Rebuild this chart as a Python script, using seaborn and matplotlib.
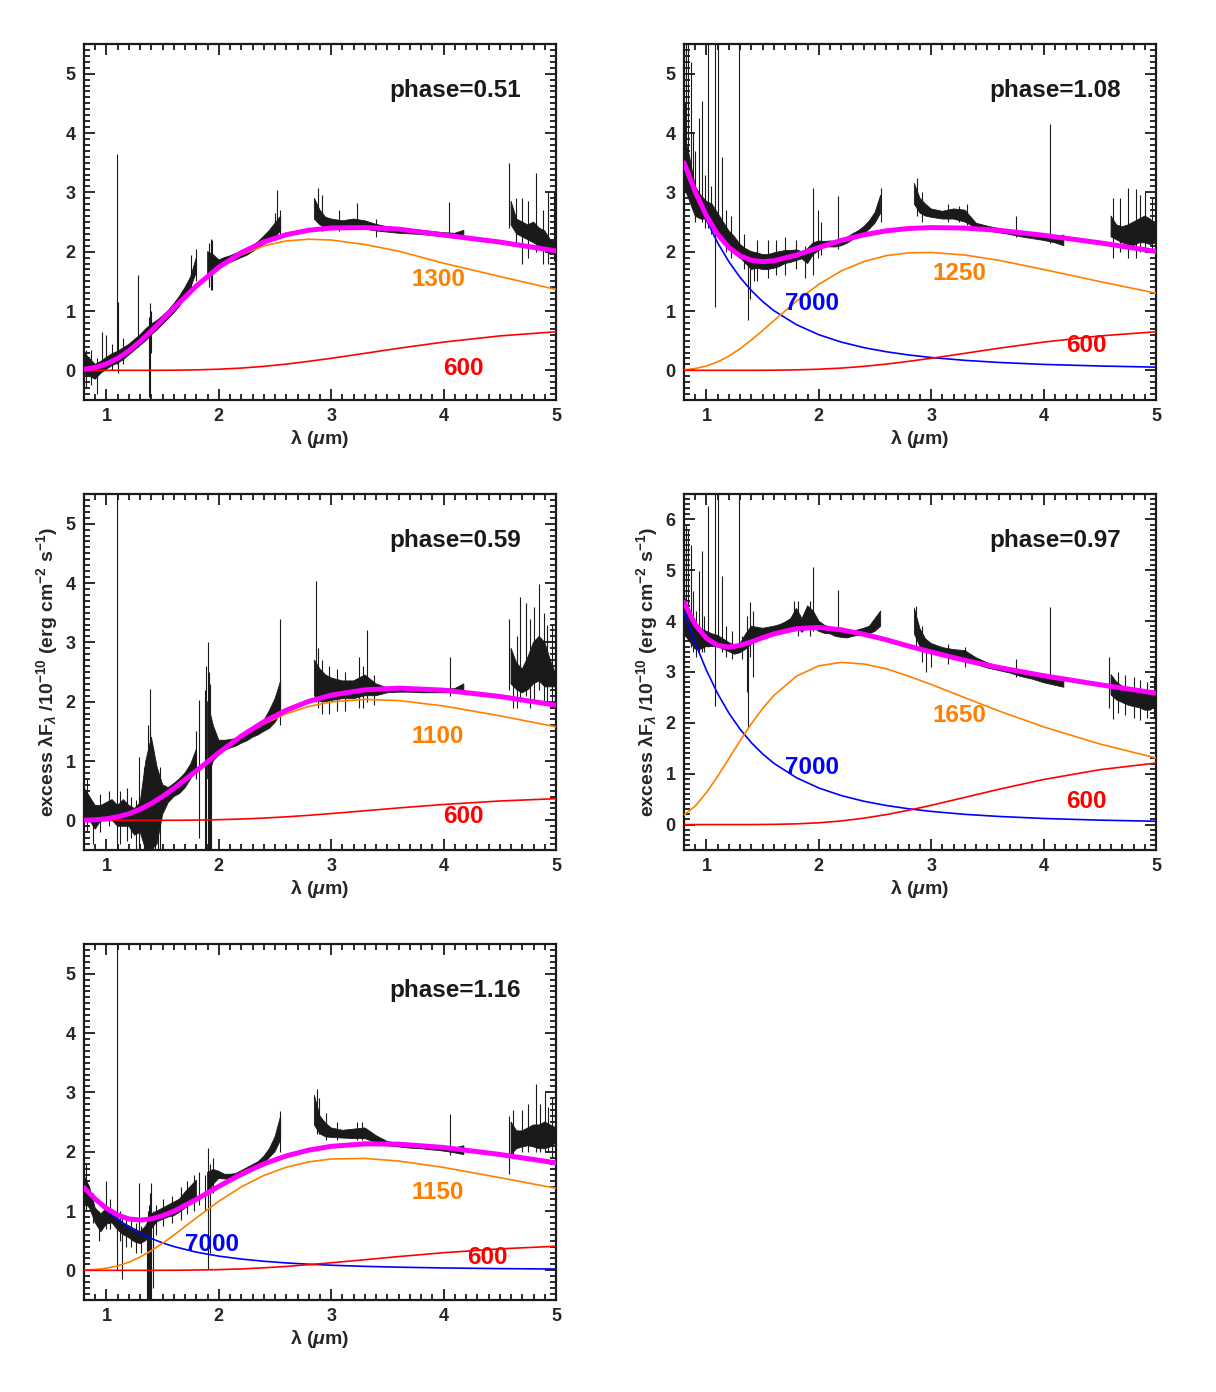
import numpy as np
import matplotlib
matplotlib.use("Agg")
import matplotlib.pyplot as plt
import seaborn as sns
from matplotlib.ticker import MultipleLocator

NA = np.nan

# Wavelength grid (micron) on which the noisy spectra were read (NA = no data)
spec_wl = [0.80, 0.85, 0.90, 0.95, 1.00, 1.05, 1.10, 1.15, 1.20, 1.25, 1.30, 1.35,
           1.40, 1.45, 1.50, 1.55, 1.60, 1.65, 1.70, 1.75, 1.80, 1.85, 1.90, 1.95,
           2.00, 2.05, 2.10, 2.15, 2.20, 2.25, 2.30, 2.35, 2.40, 2.45, 2.50, 2.55,
           2.70,
           2.85, 2.90, 2.95, 3.00, 3.10, 3.20, 3.30, 3.40, 3.50, 3.60, 3.70, 3.80, 3.90, 4.00, 4.10, 4.18,
           4.40,
           4.60, 4.65, 4.70, 4.75, 4.80, 4.85, 4.90, 4.95, 5.00]

# Wavelength grid of the model curves
fit_wl = [0.8, 0.9, 1.0, 1.1, 1.2, 1.3, 1.4, 1.5, 1.6, 1.8, 2.0, 2.2, 2.4, 2.6, 2.8, 3.0, 3.3, 3.6, 4.0, 4.5, 5.0]

# ---- phase 0.51 ----
p051_lo = [-0.05, -0.10, -0.15, -0.05, 0.02, 0.08, 0.12, 0.18, 0.26, 0.34, 0.42, 0.50,
           0.60, 0.68, 0.78, 0.87, 0.97, 1.08, 1.22, 1.40, 1.65, NA, 1.55, 1.70,
           1.74, 1.78, 1.82, 1.86, 1.90, 1.94, 2.00, 2.06, 2.12, 2.18, 2.25, 2.35,
           NA,
           2.55, 2.45, 2.42, 2.40, 2.40, 2.38, 2.38, 2.35, 2.33, 2.31, 2.30, 2.29, 2.27, 2.25, 2.23, 2.24,
           NA,
           2.45, 2.30, 2.25, 2.20, 2.15, 2.10, 2.05, 1.95, 1.95]
p051_hi = [0.30, 0.20, 0.10, 0.15, 0.22, 0.28, 0.32, 0.38, 0.44, 0.52, 0.60, 0.70,
           0.78, 0.84, 0.92, 1.01, 1.12, 1.25, 1.40, 1.58, 1.90, NA, 2.00, 1.95,
           1.86, 1.90, 1.93, 1.97, 2.00, 2.04, 2.10, 2.17, 2.26, 2.36, 2.48, 2.60,
           NA,
           2.90, 2.70, 2.58, 2.55, 2.52, 2.55, 2.52, 2.46, 2.42, 2.40, 2.38, 2.36, 2.34, 2.32, 2.31, 2.36,
           NA,
           2.85, 2.55, 2.50, 2.45, 2.50, 2.40, 2.35, 2.20, 2.15]
p051_lines = [(0.82, -0.30, 0.35), (0.86, -0.25, 0.35), (0.92, -0.40, 0.20), (0.96, 0.00, 0.65),
              (1.00, 0.10, 0.60), (1.05, 0.00, 0.45), (1.09, 0.10, 3.64), (1.10, -0.05, 1.15),
              (1.15, 0.10, 0.55), (1.28, 0.40, 1.60), (1.38, -0.45, 0.90), (1.39, -0.50, 1.13),
              (1.40, 0.30, 1.00), (1.75, 1.30, 1.95), (1.80, 1.50, 2.05), (1.91, 1.40, 2.15),
              (1.93, 1.35, 2.22), (1.94, 1.35, 2.20), (2.50, 2.20, 2.65), (2.52, 2.30, 3.04),
              (2.54, 2.30, 2.70), (2.88, 2.50, 3.08), (2.92, 2.35, 2.95), (3.07, 2.35, 2.70),
              (3.23, 2.40, 2.82), (3.40, 2.25, 2.55), (4.05, 2.30, 2.84), (4.58, 2.40, 3.49),
              (4.64, 2.10, 2.90), (4.70, 1.80, 2.90), (4.75, 1.90, 2.85), (4.82, 2.00, 3.33),
              (4.88, 1.80, 2.70), (4.93, 1.80, 3.02), (4.98, 1.85, 3.00)]
p051_temps = [1300, 600]
p051_orange = [0.017, 0.048, 0.108, 0.202, 0.330, 0.488, 0.666, 0.856, 1.050, 1.414, 1.720, 1.947, 2.098, 2.181, 2.210, 2.196, 2.120, 2.008, 1.805, 1.582, 1.363]
p051_red = [0, 0, 0, 0, 0, 0, 0, 0.001, 0.002, 0.008, 0.019, 0.038, 0.067, 0.105, 0.152, 0.203, 0.287, 0.372, 0.476, 0.580, 0.650]

# ---- phase 1.08 ----
p108_lo = [3.10, 2.85, 2.60, 2.55, 2.55, 2.50, 2.35, 2.20, 2.05, 2.00, 1.90, 1.80,
           1.70, 1.72, 1.70, 1.70, 1.72, 1.75, 1.80, 1.82, 1.85, 1.88, 1.80, 1.95,
           2.02, 2.08, 2.08, 2.08, 2.10, 2.14, 2.20, 2.25, 2.30, 2.38, 2.48, 2.65,
           NA,
           2.80, 2.65, 2.60, 2.58, 2.55, 2.55, 2.50, 2.40, 2.35, 2.32, 2.29, 2.25, 2.22, 2.19, 2.15, 2.10,
           NA,
           2.25, 2.20, 2.15, 2.12, 2.10, 2.15, 2.15, 2.12, 2.15]
p108_hi = [4.00, 3.60, 3.10, 2.95, 2.85, 2.80, 2.65, 2.50, 2.35, 2.25, 2.12, 2.05,
           2.00, 1.98, 1.95, 1.95, 1.98, 2.00, 2.02, 2.02, 2.03, 2.00, 2.05, 2.15,
           2.18, 2.17, 2.18, 2.18, 2.20, 2.24, 2.30, 2.35, 2.42, 2.52, 2.66, 2.95,
           NA,
           3.15, 2.90, 2.80, 2.72, 2.68, 2.72, 2.70, 2.48, 2.43, 2.39, 2.36, 2.32, 2.29, 2.26, 2.24, 2.28,
           NA,
           2.60, 2.45, 2.42, 2.45, 2.50, 2.55, 2.60, 2.55, 2.45]
p108_lines = [(0.81, 3.00, 4.50), (0.82, 3.20, 6.00), (0.84, 3.00, 6.00), (0.86, 3.00, 5.20),
              (0.88, 2.80, 4.00), (0.90, 2.50, 3.70), (0.93, 2.60, 4.26), (0.96, 2.50, 4.54),
              (0.99, 2.40, 3.30), (1.01, 2.40, 6.00), (1.04, 2.30, 3.10), (1.08, 1.06, 6.00),
              (1.10, 2.40, 6.00), (1.14, 2.20, 3.59), (1.17, 2.00, 2.70), (1.22, 1.90, 2.60),
              (1.29, 1.90, 6.00), (1.33, 1.70, 2.30), (1.37, 0.84, 2.00), (1.39, 1.20, 1.90),
              (1.42, 1.50, 2.00), (1.45, 1.50, 2.20), (1.55, 1.55, 2.20), (1.62, 1.60, 2.20),
              (1.70, 1.60, 2.25), (1.80, 1.70, 2.20), (1.88, 1.55, 2.10), (1.95, 1.60, 3.08),
              (1.99, 1.90, 2.70), (2.02, 1.95, 2.50), (2.17, 2.05, 2.94), (2.55, 2.50, 3.08),
              (2.87, 2.60, 3.25), (2.92, 2.50, 3.00), (3.15, 2.50, 2.80), (3.25, 2.50, 2.77),
              (3.32, 2.45, 2.80), (3.75, 2.25, 2.60), (4.06, 2.15, 4.15), (4.62, 1.90, 2.90),
              (4.68, 2.00, 2.90), (4.75, 1.90, 3.08), (4.82, 1.90, 3.05), (4.86, 2.00, 2.95),
              (4.90, 2.00, 3.00), (4.96, 2.00, 2.90)]
p108_temps = [7000, 1250, 600]
p108_blue = [3.49, 2.979, 2.530, 2.148, 1.829, 1.563, 1.343, 1.159, 1.006, 0.770, 0.600, 0.476, 0.383, 0.313, 0.259, 0.216, 0.168, 0.133, 0.100, 0.073, 0.054]
p108_orange = [0.010, 0.031, 0.073, 0.143, 0.241, 0.366, 0.512, 0.672, 0.838, 1.164, 1.451, 1.676, 1.834, 1.933, 1.980, 1.987, 1.943, 1.855, 1.700, 1.496, 1.300]
p108_red = [0, 0, 0, 0, 0, 0, 0, 0.001, 0.002, 0.008, 0.019, 0.038, 0.067, 0.105, 0.152, 0.203, 0.287, 0.372, 0.476, 0.580, 0.650]

# ---- phase 0.59 ----
p059_lo = [0.00, 0.00, -0.15, 0.00, 0.00, 0.00, -0.10, -0.10, -0.10, -0.25, -0.20, -0.50,
           -0.50, -0.40, 0.10, 0.30, 0.40, 0.45, 0.55, 0.70, 0.85, NA, 0.70, 1.00,
           1.10, 1.18, 1.22, 1.25, 1.30, 1.34, 1.40, 1.44, 1.50, 1.55, 1.65, 1.80,
           NA,
           2.10, 2.00, 2.00, 2.02, 2.05, 2.05, 2.10, 2.10, 2.15, 2.16, 2.16, 2.15, 2.15, 2.15, 2.15, 2.17,
           NA,
           2.30, 2.20, 2.15, 2.20, 2.30, 2.35, 2.25, 2.25, 2.25]
p059_hi = [0.55, 0.40, 0.25, 0.25, 0.30, 0.35, 0.25, 0.35, 0.25, 0.20, 0.30, 1.00,
           1.40, 0.90, 0.60, 0.55, 0.62, 0.70, 0.80, 0.95, 1.20, NA, 2.00, 1.60,
           1.35, 1.35, 1.36, 1.38, 1.42, 1.46, 1.52, 1.58, 1.68, 1.85, 2.05, 2.35,
           NA,
           2.70, 2.55, 2.45, 2.40, 2.35, 2.35, 2.45, 2.30, 2.23, 2.22, 2.22, 2.21, 2.21, 2.21, 2.22, 2.30,
           NA,
           2.90, 2.65, 2.55, 2.75, 3.00, 3.10, 3.00, 2.70, 2.45]
p059_lines = [(0.83, -0.20, 0.70), (0.88, -0.40, 0.30), (0.94, -0.20, 0.45), (1.02, -0.10, 0.50),
              (1.09, -0.50, 6.00), (1.12, -0.40, 0.50), (1.18, -0.35, 0.55), (1.22, -0.30, 0.40),
              (1.26, -0.50, 0.35), (1.29, -0.50, 1.06), (1.33, -0.50, 0.90), (1.37, -0.50, 1.60),
              (1.385, 0.50, 2.21), (1.39, -0.50, 1.50), (1.41, -0.50, 1.20), (1.43, -0.50, 1.00),
              (1.46, -0.50, 0.80), (1.48, -0.50, 0.90), (1.80, 0.70, 1.50), (1.82, -0.29, 2.02),
              (1.88, -0.50, 2.20), (1.89, -0.50, 2.60), (1.90, -0.50, 3.00), (1.91, -0.50, 2.50),
              (1.92, -0.50, 2.30), (1.93, -0.50, 1.60), (2.54, 1.60, 3.39), (2.86, 2.00, 4.04),
              (2.88, 1.90, 2.90), (2.92, 1.80, 2.70), (2.98, 1.80, 2.60), (3.05, 1.85, 2.55),
              (3.12, 1.85, 2.50), (3.25, 1.90, 2.75), (3.28, 1.90, 2.60), (3.32, 2.00, 3.20),
              (3.38, 1.95, 2.45), (4.06, 2.10, 2.75), (4.58, 2.20, 3.39), (4.62, 1.90, 2.50),
              (4.65, 1.90, 3.10), (4.68, 2.00, 3.76), (4.73, 2.10, 3.67), (4.77, 1.90, 3.40),
              (4.80, 2.00, 3.60), (4.85, 2.20, 3.98), (4.89, 2.00, 3.50), (4.92, 2.00, 3.30),
              (4.96, 1.90, 3.30), (4.99, 2.00, 3.00)]
p059_temps = [1100, 600]
p059_orange = [0.002, 0.009, 0.026, 0.059, 0.111, 0.187, 0.285, 0.403, 0.537, 0.831, 1.129, 1.399, 1.624, 1.797, 1.920, 1.996, 2.039, 2.019, 1.927, 1.762, 1.576]
p059_red = [0, 0, 0, 0, 0, 0, 0, 0.001, 0.001, 0.004, 0.011, 0.022, 0.038, 0.059, 0.085, 0.114, 0.161, 0.209, 0.267, 0.326, 0.365]

# ---- phase 0.97 ----
p097_lo = [3.75, 3.60, 3.45, 3.45, 3.50, 3.50, 3.50, 3.45, 3.40, 3.35, 3.38, 3.45,
           3.55, 3.65, 3.68, 3.70, 3.73, 3.75, 3.80, 3.85, 3.90, 3.78, 3.90, 3.88,
           3.80, 3.76, 3.75, 3.70, 3.68, 3.67, 3.70, 3.72, 3.74, 3.75, 3.80, 3.90,
           NA,
           3.75, 3.50, 3.42, 3.38, 3.32, 3.27, 3.22, 3.15, 3.08, 3.03, 2.98, 2.91, 2.86, 2.79, 2.74, 2.70,
           NA,
           2.55, 2.45, 2.40, 2.35, 2.32, 2.30, 2.25, 2.25, 2.35]
p097_hi = [4.50, 4.20, 3.95, 3.85, 3.80, 3.75, 3.72, 3.65, 3.58, 3.52, 3.56, 3.75,
           3.90, 3.88, 3.86, 3.88, 3.90, 3.93, 3.98, 4.05, 4.25, 4.05, 4.30, 4.20,
           4.00, 3.92, 3.88, 3.83, 3.78, 3.76, 3.80, 3.83, 3.86, 3.90, 4.05, 4.20,
           NA,
           4.25, 3.85, 3.65, 3.56, 3.48, 3.44, 3.42, 3.28, 3.18, 3.11, 3.06, 3.00, 2.95, 2.88, 2.84, 2.82,
           NA,
           2.95, 2.80, 2.72, 2.68, 2.65, 2.62, 2.58, 2.55, 2.55]
p097_lines = [(0.82, 3.80, 5.90), (0.84, 3.60, 5.80), (0.86, 3.50, 5.50), (0.88, 3.40, 4.60),
              (0.91, 3.30, 4.20), (0.93, 3.40, 4.99), (0.96, 3.40, 5.38), (0.98, 3.40, 4.10),
              (1.01, 3.50, 6.27), (1.08, 2.34, 7.00), (1.10, 3.50, 7.00), (1.14, 3.40, 4.89),
              (1.17, 3.30, 3.90), (1.23, 3.25, 3.80), (1.29, 3.40, 7.00), (1.32, 3.25, 3.70),
              (1.36, 2.60, 4.10), (1.37, 1.91, 3.60), (1.39, 3.30, 4.37), (1.41, 2.90, 4.20),
              (1.78, 3.80, 4.40), (1.81, 3.70, 4.40), (1.92, 3.70, 4.40), (1.95, 3.80, 5.06),
              (2.17, 3.70, 4.62), (2.86, 3.50, 4.30), (2.92, 3.20, 3.90), (2.95, 3.00, 3.60),
              (3.00, 3.10, 3.50), (3.15, 3.15, 3.55), (3.30, 3.10, 3.50), (3.75, 2.90, 3.26),
              (4.06, 2.80, 4.27), (4.58, 2.30, 3.29), (4.62, 2.08, 2.70), (4.66, 2.20, 3.00),
              (4.72, 2.15, 2.95), (4.80, 2.10, 2.90), (4.86, 2.05, 2.85), (4.92, 2.10, 2.80),
              (4.98, 2.10, 2.90)]
p097_temps = [7000, 1650, 600]
p097_blue = [4.18, 3.568, 3.031, 2.573, 2.190, 1.872, 1.608, 1.389, 1.205, 0.922, 0.719, 0.570, 0.459, 0.375, 0.310, 0.259, 0.201, 0.160, 0.120, 0.087, 0.065]
p097_orange = [0.19, 0.364, 0.630, 0.951, 1.300, 1.652, 1.984, 2.284, 2.540, 2.917, 3.122, 3.189, 3.157, 3.063, 2.917, 2.755, 2.493, 2.236, 1.921, 1.584, 1.310]
p097_red = [0, 0, 0, 0, 0, 0, 0, 0.002, 0.004, 0.014, 0.035, 0.071, 0.126, 0.196, 0.282, 0.379, 0.535, 0.693, 0.886, 1.079, 1.210]

# ---- phase 1.16 ----
p116_lo = [1.15, 1.05, 0.80, 0.65, 0.78, 0.80, 0.68, 0.60, 0.55, 0.48, 0.45, 0.50,
           0.70, 0.82, 0.86, 0.90, 0.92, 0.98, 1.05, 1.12, 1.20, NA, 1.30, 1.45,
           1.55, 1.54, 1.54, 1.55, 1.58, 1.63, 1.68, 1.73, 1.80, 1.90, 2.00, 2.20,
           NA,
           2.45, 2.30, 2.25, 2.24, 2.23, 2.22, 2.22, 2.15, 2.10, 2.08, 2.06, 2.05, 2.03, 2.01, 1.98, 1.95,
           NA,
           1.95, 2.05, 2.08, 2.10, 2.08, 2.05, 2.05, 2.08, 2.15]
p116_hi = [1.60, 1.40, 1.05, 0.95, 1.05, 1.00, 0.88, 0.80, 0.75, 0.70, 0.65, 0.75,
           0.95, 1.00, 1.05, 1.10, 1.15, 1.20, 1.32, 1.42, 1.52, NA, 1.65, 1.70,
           1.67, 1.62, 1.62, 1.63, 1.68, 1.73, 1.78, 1.83, 1.92, 2.05, 2.25, 2.60,
           NA,
           2.95, 2.60, 2.48, 2.40, 2.36, 2.38, 2.40, 2.27, 2.17, 2.14, 2.12, 2.11, 2.09, 2.08, 2.06, 2.10,
           NA,
           2.50, 2.35, 2.35, 2.40, 2.45, 2.45, 2.50, 2.45, 2.40]
p116_lines = [(0.82, 1.00, 1.80), (0.88, 0.80, 1.30), (0.93, 0.50, 1.00), (1.00, 0.70, 1.51),
              (1.03, 0.70, 1.20), (1.09, 0.00, 6.00), (1.12, 0.50, 1.00), (1.14, -0.15, 0.90),
              (1.17, 0.40, 0.90), (1.22, 0.40, 0.85), (1.26, 0.30, 0.80), (1.29, 0.50, 1.48),
              (1.31, 0.30, 0.75), (1.36, -0.50, 0.90), (1.37, -0.50, 1.00), (1.38, -0.50, 1.10),
              (1.39, -0.50, 1.30), (1.40, -0.50, 1.48), (1.41, -0.30, 1.00), (1.44, 0.60, 1.10),
              (1.50, 0.75, 1.20), (1.58, 0.80, 1.25), (1.66, 0.85, 1.40), (1.72, 0.95, 1.50),
              (1.78, 1.00, 1.60), (1.82, 1.10, 1.65), (1.88, 1.00, 1.60), (1.90, 0.02, 2.07),
              (1.92, 0.30, 1.80), (1.95, 1.30, 1.90), (2.54, 2.00, 2.69), (2.87, 2.30, 3.05),
              (2.89, 2.30, 2.90), (2.95, 2.20, 2.65), (3.05, 2.20, 2.50), (3.23, 2.20, 2.50),
              (3.27, 2.20, 2.50), (4.06, 1.95, 2.63), (4.58, 1.62, 2.60), (4.62, 1.90, 2.70),
              (4.70, 2.00, 2.70), (4.75, 2.00, 2.80), (4.82, 2.00, 3.14), (4.86, 2.00, 2.80),
              (4.90, 2.00, 3.00), (4.93, 2.00, 2.75), (4.96, 1.90, 2.90), (4.99, 2.00, 2.60)]
p116_temps = [7000, 1150, 600]
p116_blue = [1.39, 1.187, 1.008, 0.856, 0.728, 0.622, 0.535, 0.462, 0.401, 0.306, 0.239, 0.190, 0.153, 0.125, 0.103, 0.086, 0.067, 0.053, 0.040, 0.029, 0.022]
p116_orange = [0.004, 0.014, 0.036, 0.076, 0.138, 0.225, 0.332, 0.457, 0.594, 0.885, 1.165, 1.407, 1.599, 1.738, 1.828, 1.877, 1.886, 1.842, 1.734, 1.562, 1.383]
p116_red = [0, 0, 0, 0, 0, 0, 0, 0.001, 0.001, 0.005, 0.012, 0.024, 0.042, 0.066, 0.095, 0.127, 0.179, 0.232, 0.297, 0.362, 0.406]

BLUE, ORANGE, RED, MAGENTA = "#0000ff", "#ff8000", "#ff0000", "#ff00ff"

# panel layout (pixel geometry of the original figure)
L, R, W = 84 / 1216, 684 / 1216, 472 / 1216
H = 356 / 1392
panels = [
    dict(phase="0.51", lo=p051_lo, hi=p051_hi, lines=p051_lines,
         comps=[(p051_orange, ORANGE), (p051_red, RED)], temps=p051_temps,
         lab_xy=[(3.95, 1.53), (4.18, 0.03)], ylim=(-0.5, 5.5), rect=[L, 1 - 400 / 1392, W, H], ylab=False),
    dict(phase="1.08", lo=p108_lo, hi=p108_hi, lines=p108_lines,
         comps=[(p108_blue, BLUE), (p108_orange, ORANGE), (p108_red, RED)], temps=p108_temps,
         lab_xy=[(1.94, 1.13), (3.25, 1.63), (4.38, 0.42)], ylim=(-0.5, 5.5), rect=[R, 1 - 400 / 1392, W, H], ylab=False),
    dict(phase="0.59", lo=p059_lo, hi=p059_hi, lines=p059_lines,
         comps=[(p059_orange, ORANGE), (p059_red, RED)], temps=p059_temps,
         lab_xy=[(3.95, 1.42), (4.18, 0.07)], ylim=(-0.5, 5.5), rect=[L, 1 - 850 / 1392, W, H], ylab=True),
    dict(phase="0.97", lo=p097_lo, hi=p097_hi, lines=p097_lines,
         comps=[(p097_blue, BLUE), (p097_orange, ORANGE), (p097_red, RED)], temps=p097_temps,
         lab_xy=[(1.94, 1.13), (3.25, 2.14), (4.38, 0.45)], ylim=(-0.5, 6.5), rect=[R, 1 - 850 / 1392, W, H], ylab=True),
    dict(phase="1.16", lo=p116_lo, hi=p116_hi, lines=p116_lines,
         comps=[(p116_blue, BLUE), (p116_orange, ORANGE), (p116_red, RED)], temps=p116_temps,
         lab_xy=[(1.94, 0.43), (3.95, 1.32), (4.39, 0.22)], ylim=(-0.5, 5.5), rect=[L, 1 - 1300 / 1392, W, H], ylab=False),
]

sns.set_theme(style="ticks")
plt.rcParams['font.family'] = ['Liberation Sans', 'DejaVu Sans']
plt.rcParams['font.weight'] = 'bold'
plt.rcParams['axes.labelweight'] = 'bold'
plt.rcParams['mathtext.fontset'] = 'custom'
plt.rcParams['mathtext.rm'] = 'Liberation Sans:bold'
plt.rcParams['mathtext.it'] = 'Liberation Sans:italic:bold'
plt.rcParams['mathtext.bf'] = 'Liberation Sans:bold'

fig = plt.figure(figsize=(12.16, 13.92), dpi=100)
fig.patch.set_facecolor("white")

for p in panels:
    ax = fig.add_axes(p["rect"])
    ax.set_facecolor("white")

    # observed spectrum: noise band + narrow lines / dips
    ax.fill_between(spec_wl, p["lo"], p["hi"], facecolor="k", edgecolor="k", lw=0.6, zorder=2)
    lw_, lo_, hi_ = zip(*p["lines"])
    ax.vlines(lw_, lo_, hi_, color="k", lw=0.8, zorder=2)

    # blackbody components and their sum
    total = np.zeros(len(fit_wl))
    for vals, col in p["comps"]:
        sns.lineplot(x=fit_wl, y=vals, color=col, linewidth=1.2, ax=ax, zorder=3)
        total += np.array(vals)
    sns.lineplot(x=fit_wl, y=total, color=MAGENTA, linewidth=3.6, ax=ax, zorder=4)

    for (x, y), T, (_, col) in zip(p["lab_xy"], p["temps"], p["comps"]):
        ax.text(x, y, str(T), color=col, fontsize=17.5, fontweight="bold", ha="center", va="center", zorder=5)
    ax.text(0.925, 0.868, "phase=" + p["phase"], transform=ax.transAxes, fontsize=17.5,
            fontweight="bold", ha="right", va="center", color="k")

    ax.set_xlim(0.8, 5.0)
    ax.set_ylim(*p["ylim"])
    ax.xaxis.set_major_locator(MultipleLocator(1))
    ax.xaxis.set_minor_locator(MultipleLocator(0.1))
    ax.yaxis.set_major_locator(MultipleLocator(1))
    ax.yaxis.set_minor_locator(MultipleLocator(0.1))
    ax.tick_params(which="both", direction="in", top=True, right=True, color="k", width=1.3)
    ax.tick_params(which="major", length=8, labelsize=13)
    ax.tick_params(which="minor", length=4)
    ax.tick_params(axis="x", pad=6)
    ax.tick_params(axis="y", pad=6)
    for s in ax.spines.values():
        s.set_linewidth(1.6)
        s.set_color("k")
    ax.set_xlabel(r"λ ($\mu$m)", fontsize=14, labelpad=2)
    if p["ylab"]:
        ax.set_ylabel(r"excess λF$_\lambda$ /10$^{-10}$ (erg cm$^{-2}$ s$^{-1}$)", fontsize=14, labelpad=4)
    else:
        ax.set_ylabel("")

fig.savefig("out.png", dpi=100, facecolor="white")
